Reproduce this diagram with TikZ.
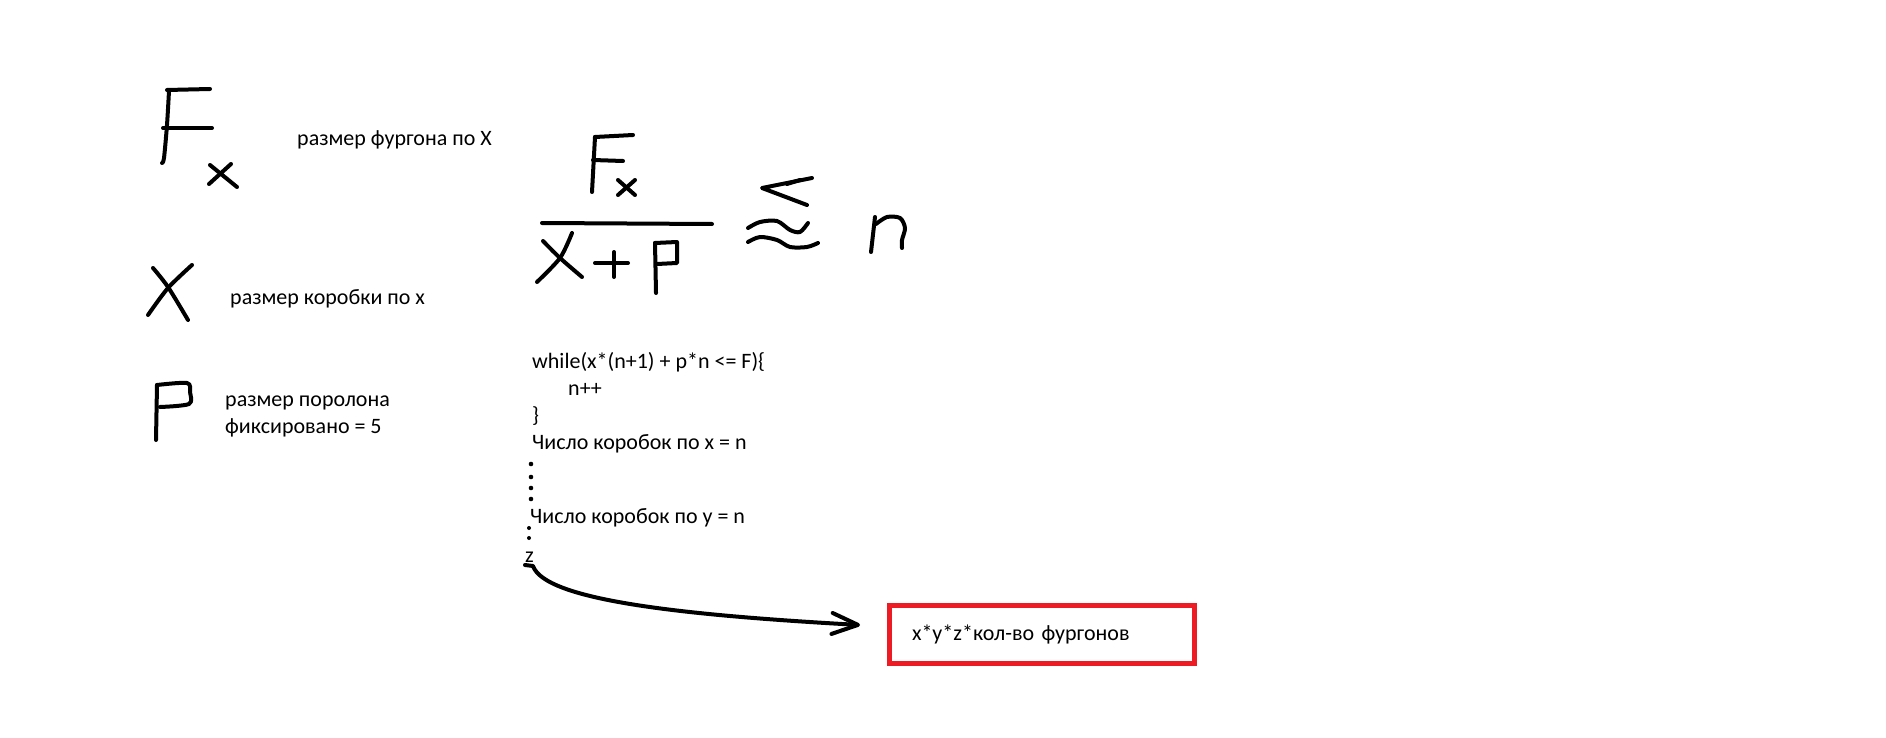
\documentclass[tikz,border=0pt]{standalone}
\usepackage{fontspec}
\setmainfont{Carlito}
\usetikzlibrary{arrows.meta}
\definecolor{paintred}{RGB}{237,28,36}

\begin{document}
\begin{tikzpicture}[x=1pt,y=-1pt,
    pen/.style={line width=4pt,line cap=round,line join=round},
    lbl/.style={anchor=base west,inner sep=0pt,font=\fontsize{22}{27}\selectfont},
    resbox/.style={draw=paintred,line width=5pt,minimum height=58pt,inner xsep=22.5pt,inner ysep=0pt,
        text width=260pt,align=left,font=\fontsize{22}{27}\selectfont}]
        \path[use as bounding box,fill=white](0,0)rectangle(1886,738);
        % F_x
        \draw[pen]plot[smooth]coordinates{(169,91)(167,125)(164,158)(162,163)};
        \draw[pen](167,90)--(210,89);
        \draw[pen](163,128)--(212,128);
        \draw[pen](210,165)--(237,187);
        \draw[pen](231,164)--(209,184);
        \node[lbl](fx)at(297,146){размер фургона по X};
        % X
        \draw[pen]plot[smooth]coordinates{(153,268)(168,287)(188,320)};
        \draw[pen]plot[smooth]coordinates{(192,265)(168,288)(148,315)};
        \node[lbl](bx)at(230,304){размер коробки по x};
        % P
        \draw[pen](157,385)--(156,440);
        \draw[pen]plot[smooth]coordinates{(157,385)(187,383)(190,392)(189,404)(160,407)};
        \node[lbl](pp1)at(225,406){размер поролона};
        \node[lbl](pp2)at(225,433){фиксировано = 5};
        % дробь
        \draw[pen](595,137)--(592,192);
        \draw[pen](595,137)--(633,135);
        \draw[pen](593,160)--(623,161);
        \draw[pen](618,180)--(635,195);
        \draw[pen](635,180)--(618,195);
        \draw[pen](542,223)--(712,224);
        \draw[pen]plot[smooth]coordinates{(543,241)(560,258)(582,277)};
        \draw[pen]plot[smooth]coordinates{(572,233)(560,258)(537,282)};
        \draw[pen](595,263)--(628,263);
        \draw[pen](614,252)--(614,277);
        \draw[pen](655,243)--(656,293);
        \draw[pen](655,243)--(677,242)--(677,263)--(657,264);
        % <~ n
        \draw[pen](812,178)--(762,188)--(807,205);
        \draw[pen](787,184)--(800,180);
        \draw[pen]plot[smooth]coordinates{(748,228)(760,222)(777,221)(790,230)(800,232)(808,223)};
        \draw[pen]plot[smooth]coordinates{(748,242)(760,237)(777,240)(790,247)(807,247)(818,243)};
        \draw[pen](875,217)--(871,252);
        \draw[pen]plot[smooth]coordinates{(876,224)(887,217)(900,218)(905,228)(902,240)(902,248)};
        % код
        \node[lbl](c1)at(532,368){while(x*(n+1) + p*n <= F)\{};
        \node[lbl](c2)at(568,395){n++};
        \node[lbl](c3)at(532,422){\}};
        \node[lbl](nx)at(532,449){Число коробок по x = n};
        \foreach \y in {464,477,488,499}
            \fill(531,\y)circle(2.3);
        \node[lbl](ny)at(530,523){Число коробок по y = n};
        \foreach \y in {528,538}
            \fill(529,\y)circle(2);
        \node[lbl](nz)at(525,562){z};
        % итог
        \node[resbox](res)at(1042,634.5){x*y*z*кол-во фургонов};
        \coordinate(tip)at([xshift=-27pt,yshift=9.5pt]res.west);
        \draw[pen,-{Straight Barb[length=26pt,width=21pt,round]}]([yshift=-3pt]nz.base west)--++(8,1)
            ..controls(545,600)and(680,615)..(tip);
    \end{tikzpicture}
\end{document}
